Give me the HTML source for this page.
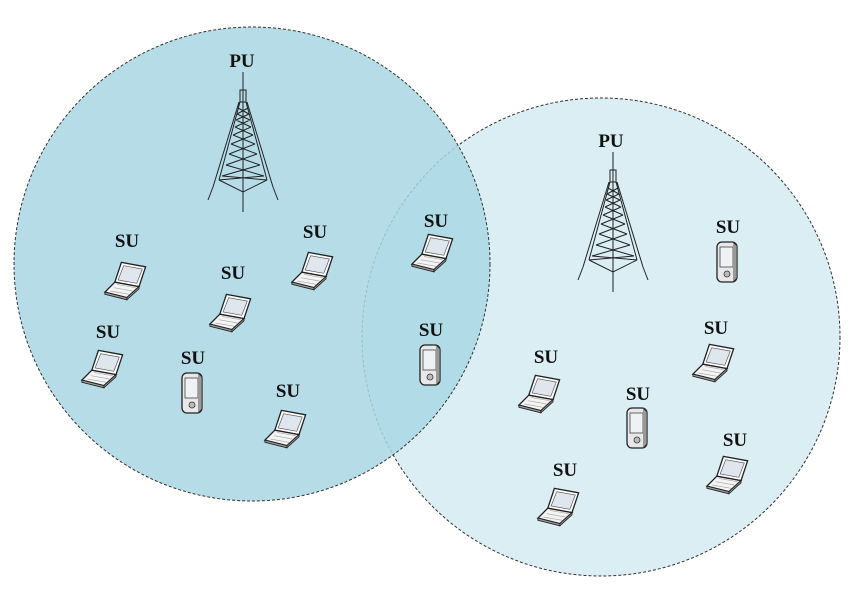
<!DOCTYPE html>
<html><head><meta charset="utf-8"><style>html,body{margin:0;padding:0;background:#fff}
.t{font-family:"Liberation Serif",serif;font-weight:bold;font-size:19px;fill:#111}</style></head>
<body>
<svg width="863" height="591" viewBox="0 0 863 591" xmlns="http://www.w3.org/2000/svg">
<defs>
<symbol id="lap" viewBox="-20 -18 40 36" overflow="visible">
  <path d="M-6,-16 L16,-12 L10,6 L-12,2 Z" fill="#fff" stroke="#222" stroke-width="1.2"/>
  <path d="M-4,-13 L13,-10 L8,3 L-9,0 Z" fill="#dfe6ee" stroke="#555" stroke-width="0.6"/>
  <path d="M-12,2 L10,6 L-1,16 L-21,11 Z" fill="#f4f4f4" stroke="#222" stroke-width="1.2"/>
  <path d="M-21,11 L-21,13 L-1,18 L-1,16 Z M-1,16 L10,6 L10,8 L-1,18 Z" fill="#999" stroke="#222" stroke-width="0.8"/>
  <path d="M-10,4 L7,7 M-13,7 L4,10 M-16,10 L1,13" stroke="#aaa" stroke-width="0.6"/>
</symbol>
<symbol id="ph" viewBox="-12 -22 24 44" overflow="visible">
  <rect x="-10" y="-20" width="20" height="40" rx="5" fill="#e8e8e8" stroke="#222" stroke-width="1.3"/>
  <rect x="-7" y="-15" width="13" height="20" fill="#eef2f5" stroke="#444" stroke-width="0.8"/>
  <circle cx="0" cy="12" r="3" fill="#bbb" stroke="#333" stroke-width="0.8"/>
  <path d="M6,-20 L10,-16 L10,16 L6,20" fill="#999" stroke="#333" stroke-width="0.8"/>
</symbol>
<symbol id="tw" viewBox="-35 0 70 140" overflow="visible">
  <g stroke="#222" fill="none" stroke-width="1">
    <line x1="0" y1="0" x2="0" y2="140"/>
    <rect x="-3" y="18" width="6" height="12"/>
    <path d="M-4,30 L-30,115 M4,30 L30,115 M-3,30 L-24,108 M3,30 L24,108"/>
    <path d="M-24,108 L0,120 L24,108 M-30,115 L-35,128 M30,115 L35,128"/>
    <path d="M-5,36 L6,42 M5,36 L-6,42 M-6,42 L7,48 M6,42 L-7,48 M-7,48 L8,55 M7,48 L-8,55 M-8,55 L10,63 M8,55 L-10,63 M-10,63 L12,72 M10,63 L-12,72 M-12,72 L14,82 M12,72 L-14,82 M-14,82 L17,93 M14,82 L-17,93 M-17,93 L21,104 M17,93 L-21,104 M-21,104 L24,108 M21,104 L-24,108"/>
  </g>
</symbol>
</defs>
<ellipse cx="601" cy="337" rx="239" ry="239" fill="#daeef3" stroke="#333" stroke-width="1" stroke-dasharray="3,2"/>
<ellipse cx="252" cy="264" rx="238" ry="237" fill="#a9d7e3" fill-opacity="0.85" stroke="#333" stroke-width="1" stroke-dasharray="3,2"/>
<g class="t" text-anchor="middle">
<text x="242" y="67">PU</text><text x="611" y="147">PU</text>
<text x="127" y="247">SU</text><text x="315" y="238">SU</text><text x="233" y="279">SU</text>
<text x="108" y="338">SU</text><text x="193" y="364">SU</text><text x="288" y="397">SU</text>
<text x="436" y="227">SU</text><text x="431" y="336">SU</text>
<text x="728" y="233">SU</text><text x="716" y="334">SU</text><text x="546" y="363">SU</text>
<text x="638" y="400">SU</text><text x="735" y="446">SU</text><text x="565" y="476">SU</text>
</g>
<use href="#tw" x="208" y="72" width="70" height="140"/>
<use href="#tw" x="578" y="152" width="70" height="140"/>
<use href="#lap" x="106" y="260" width="44" height="40"/>
<use href="#lap" x="293" y="250" width="44" height="40"/>
<use href="#lap" x="211" y="292" width="44" height="40"/>
<use href="#lap" x="83" y="348" width="44" height="40"/>
<use href="#lap" x="266" y="408" width="44" height="40"/>
<use href="#lap" x="413" y="232" width="44" height="40"/>
<use href="#lap" x="694" y="342" width="44" height="40"/>
<use href="#lap" x="520" y="373" width="44" height="40"/>
<use href="#lap" x="708" y="454" width="44" height="40"/>
<use href="#lap" x="539" y="486" width="44" height="40"/>
<use href="#ph" x="180" y="371" width="24" height="44"/>
<use href="#ph" x="418" y="343" width="24" height="44"/>
<use href="#ph" x="715" y="240" width="24" height="44"/>
<use href="#ph" x="625" y="406" width="24" height="44"/>
</svg>
</body></html>
